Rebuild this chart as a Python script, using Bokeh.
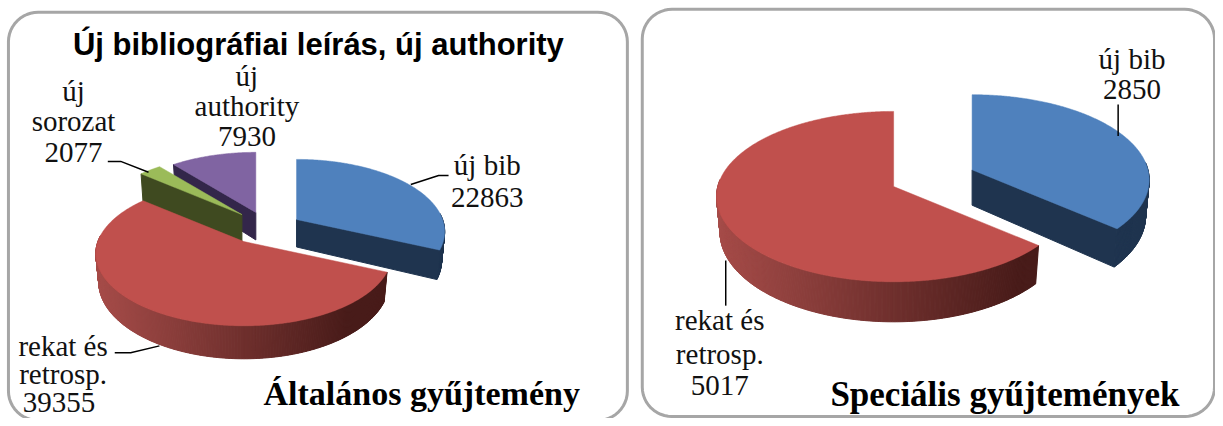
import math
from bokeh.plotting import figure
from bokeh.models import Range1d
from bokeh.core.properties import value
from bokeh.embed import file_html
from bokeh.resources import INLINE

# ---- data
left_labels = ["új bib", "rekat és retrosp.", "új sorozat", "új authority"]
left_values = [22863, 39355, 2077, 7930]
right_labels = ["új bib", "rekat és retrosp."]
right_values = [2850, 5017]
left_title = "Új bibliográfiai leírás, új authority"
left_caption = "Általános gyűjtemény"
right_caption = "Speciális gyűjtemények"

TOP = {"blue": "#4F81BD", "red": "#C0504D", "green": "#9BBB59", "purple": "#8064A2"}
SIDE = {"blue": "#1F344F", "green": "#3F4A20", "purple": "#33264A"}
RED_L, RED_R = (166, 76, 73), (72, 27, 25)

p = figure(width=1215, height=418, x_range=Range1d(0, 1223), y_range=Range1d(426, 0),
           output_backend="svg", toolbar_location=None, min_border=0,
           x_axis_location=None, y_axis_location=None, outline_line_color=None,
           background_fill_color="white", border_fill_color="white")
p.grid.visible = False


def frame(x0, y0, x1, y1, r):
    xs, ys = [], []
    for cx, cy, a0 in [(x1 - r, y0 + r, -90), (x1 - r, y1 - r, 0), (x0 + r, y1 - r, 90), (x0 + r, y0 + r, 180)]:
        for i in range(13):
            t = math.radians(a0 + i * 7.5)
            xs.append(cx + r * math.cos(t))
            ys.append(cy + r * math.sin(t))
    p.patch(xs, ys, fill_color="white", line_color="#A6A6A6", line_width=3)


class Pie:
    def __init__(s, cx, cy, a, b, k, d):
        s.cx, s.cy, s.a, s.b, s.k, s.d = cx, cy, a, b, k, d

    def top(s, th, ox=0, oy=0):
        t = math.radians(th)
        u, v = math.sin(t), -math.cos(t)
        f = 1 / (1 - s.k * v)
        return s.cx + ox + s.a * u * f, s.cy + oy + s.b * v * f

    def base(s, th, ox=0, oy=0, d=None):
        t = math.radians(th)
        u, v = math.sin(t), -math.cos(t)
        f = 1 / (1 - s.k * v)
        return s.cx + ox + 0.98 * s.a * u * f, s.cy + oy + s.b * v * f + (s.d if d is None else d) * f

    def slice(s, start, end, top, side, ox=0, oy=0, d=None):
        ax, ay = s.cx + ox, s.cy + oy
        bx, by = ax, ay + (s.d if d is None else d)
        # outer wall
        lo, hi = max(start, 85), min(end, 275)
        n = max(int(hi - lo), 1) * 2 if hi > lo else 0
        for i in range(n):
            t0, t1 = lo + (hi - lo) * i / n, lo + (hi - lo) * (i + 1) / n
            pts = [s.top(t0, ox, oy), s.top(t1, ox, oy), s.base(t1, ox, oy, d), s.base(t0, ox, oy, d)]
            if side == "gradient":
                w = min(max((s.top(t0)[0] - (s.cx - s.a)) / (1.72 * s.a), 0), 1)
                c = tuple(int(RED_L[j] + (RED_R[j] - RED_L[j]) * w) for j in range(3))
                col = "#%02X%02X%02X" % c
            else:
                col = side
            p.patch([q[0] for q in pts], [q[1] for q in pts], fill_color=col, line_color=col, line_width=1)
        # cut faces
        if side != "gradient":
            if 90 <= end <= 180:
                q0, q1 = s.top(end, ox, oy), s.base(end, ox, oy, d)
                p.patch([ax, q0[0], q1[0], bx], [ay, q0[1], q1[1], by], fill_color=side, line_color=side)
            if 180 <= start <= 360:
                q0, q1 = s.top(start, ox, oy), s.base(start, ox, oy, d)
                p.patch([ax, q0[0], q1[0], bx], [ay, q0[1], q1[1], by], fill_color=side, line_color=side)
        # top face
        m = max(int(end - start), 2) * 2
        pts = [s.top(start + (end - start) * i / m, ox, oy) for i in range(m + 1)]
        p.patch([ax] + [q[0] for q in pts], [ay] + [q[1] for q in pts], fill_color=top, line_color=top, line_width=0.5)


def sweep(values):
    total = sum(values)
    out, acc = [], 0
    for v in values:
        out.append((acc, acc + 360 * v / total))
        acc += 360 * v / total
    return out


def lines(x, ys, rows, size="29px"):
    for y, row in zip(ys, rows):
        p.text([x], [y], text=[row], text_font=value("Liberation Serif"), text_font_size=size,
               text_align="center", text_baseline="middle", text_color="#111111")


def leader(xs, ys):
    p.line(xs, ys, line_color="black", line_width=1.5)


frame(8, 12, 631, 428, 30)
frame(646, 9, 1222, 424, 30)

# left pie
pie = Pie(245, 245.7, 147, 71.5, 0.167, 28)
bl, re, gr, pu = sweep(left_values)
pie.slice(*pu, TOP["purple"], SIDE["purple"], 12, -29.7)
pie.slice(*gr, TOP["green"], SIDE["green"], -2, -27.5, d=33)
pie.slice(*re, TOP["red"], "gradient")
pie.slice(*bl, TOP["blue"], SIDE["blue"], 53, -22.5)

# right pie
pie2 = Pie(899, 189.6, 177, 85.6, 0.118, 36)
bl2, re2 = sweep(right_values)
pie2.slice(*re2, TOP["red"], "gradient")
pie2.slice(*bl2, TOP["blue"], SIDE["blue"], 79, -17)

leader([108, 121, 149], [164, 164, 175])
leader([413, 441, 451], [187.5, 178.4, 178.4])
leader([115, 131, 160], [359, 359, 352])
leader([1125, 1125], [106, 138])
leader([730, 730], [265, 311])

p.text([320], [45], text=[left_title], text_font=value("Liberation Sans"), text_font_size="31px",
       text_font_style="bold", text_align="center", text_baseline="middle", text_color="black")
p.text([424], [401], text=[left_caption], text_font=value("Liberation Serif"), text_font_size="34px",
       text_font_style="bold", text_align="center", text_baseline="middle", text_color="black")
p.text([1011], [402], text=[right_caption], text_font=value("Liberation Serif"), text_font_size="35px",
       text_font_style="bold", text_align="center", text_baseline="middle", text_color="black")

lines(248, [76.5, 108, 139], ["új", "authority", str(left_values[3])])
lines(73.5, [92, 123, 155], ["új", "sorozat", str(left_values[2])])
lines(490, [168, 201], ["új bib", str(left_values[0])])
lines(63, [352, 381], ["rekat és", "retrosp."])
lines(59, [410], [str(left_values[1])])
lines(1139, [60, 91], ["új bib", str(right_values[0])])
lines(724, [326, 360, 392], ["rekat és", "retrosp.", str(right_values[1])])

open("out.html", "w").write(file_html(p, INLINE))
